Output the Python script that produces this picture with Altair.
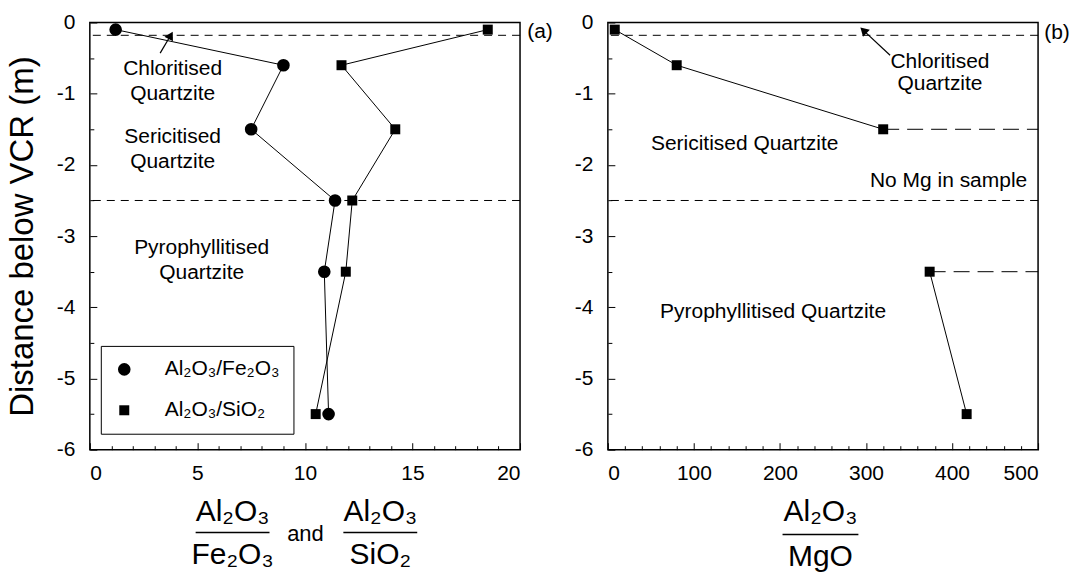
import altair as alt
import pandas as pd

FONT = "Liberation Sans"

# ---------------- data ----------------
depth = [-0.1, -0.6, -1.5, -2.5, -3.5, -5.5]
al_fe = [1.2, 9.0, 7.5, 11.4, 10.9, 11.1]
al_si = [18.5, 11.7, 14.2, 12.2, 11.9, 10.5]
series_names = ["Al₂O₃/Fe₂O₃", "Al₂O₃/SiO₂"]

mg_depth = [-0.1, -0.6, -1.5, -3.5, -5.5]
al_mg = [8, 80, 320, 374, 417]
mg_segment = [1, 1, 1, 2, 2]

zone_bounds = [-0.18, -2.5]
no_mg_x = [320, 374]
no_mg_depth = [-1.5, -3.5]

ann_a_text = ["Chloritised\nQuartzite", "Sericitised\nQuartzite", "Pyrophyllitised\nQuartzite"]
ann_a_x = [3.85, 3.85, 5.2]
ann_a_y = [-0.66, -1.61, -3.17]

ann_b_text = ["Chloritised\nQuartzite", "Sericitised Quartzite", "No Mg in sample", "Pyrophyllitised Quartzite"]
ann_b_x = [386, 159, 396, 192]
ann_b_y = [-0.56, -1.71, -2.23, -4.07]

arrow_a = {"x": [3.27], "y": [-0.43], "x2": [3.76], "y2": [-0.18]}
arrow_b = {"x": [328], "y": [-0.46], "x2": [297], "y2": [-0.11]}

y_ticks = [0, -1, -2, -3, -4, -5, -6]
y_minor = [-0.5, -1.5, -2.5, -3.5, -4.5, -5.5]
xa_ticks = [0, 5, 10, 15, 20]
xa_minor = [1, 2, 3, 4, 6, 7, 8, 9, 11, 12, 13, 14, 16, 17, 18, 19]
xb_ticks = [0, 100, 200, 300, 400, 500]
xb_minor = [v for v in range(20, 500, 20) if v % 100 != 0]

# ---------------- helpers ----------------
W_A, W_B, H = 431, 431, 428
ys = alt.Scale(domain=[-6, 0], nice=False, zero=False)
xsa = alt.Scale(domain=[0, 20], nice=False)
xsb = alt.Scale(domain=[0, 500], nice=False)


def label_axis(values, orient, title=""):
    return alt.Axis(values=values, orient=orient, ticks=False, domain=False, grid=False,
                    labelExpr="'' + datum.value", labelFont=FONT, labelFontSize=21,
                    labelColor="black", labelPadding=15 if orient == "left" else 13,
                    title=title, titleFont=FONT, titleFontSize=33,
                    titleFontWeight="normal", titleColor="black", titlePadding=17)


def tick_axis(values, orient, size):
    return alt.Axis(values=values, orient=orient, labels=False, domain=False, grid=False,
                    ticks=True, tickSize=size, offset=-size, tickColor="black",
                    tickWidth=1, title="")


def tick_layers(df, xf, yf, xscale, xmaj, xmin):
    out = []
    for xv, yv, s in [(xmaj, y_ticks, 7), (xmin, y_minor, 4)]:
        out.append(alt.Chart(df).mark_point(opacity=0).encode(
            x=alt.X(xf, scale=xscale, axis=tick_axis(xv, "bottom", s)),
            y=alt.Y(yf, scale=ys, axis=tick_axis(yv, "left", s)),
        ))
    return out


def txt(s, x, y, size=30):
    return alt.Chart(alt.Data(values=[{}])).mark_text(
        text=s, font=FONT, fontSize=size, align="center", baseline="middle", color="black"
    ).encode(x=alt.value(x), y=alt.value(y))


def frac_line(x1, x2, y):
    return alt.Chart(alt.Data(values=[{}])).mark_rule(color="black", strokeWidth=1.4).encode(
        x=alt.value(x1), x2=alt.value(x2), y=alt.value(y))


def bounds_layer():
    return alt.Chart(pd.DataFrame({"b": zone_bounds})).mark_rule(
        color="black", strokeWidth=1, strokeDash=[8, 6]
    ).encode(y=alt.Y("b:Q", scale=ys, axis=None))


def arrow(d, xscale, angle):
    df = pd.DataFrame(d)
    seg = alt.Chart(df).mark_rule(color="black", strokeWidth=1.2).encode(
        x=alt.X("x:Q", scale=xscale, axis=None), y=alt.Y("y:Q", scale=ys, axis=None),
        x2="x2:Q", y2="y2:Q")
    head = alt.Chart(df).mark_point(shape="triangle-up", filled=True, color="black",
                                    size=95, opacity=1, angle=angle).encode(
        x=alt.X("x2:Q", scale=xscale, axis=None), y=alt.Y("y2:Q", scale=ys, axis=None))
    return [seg, head]


# ---------------- panel (a) ----------------
df_a = pd.DataFrame({
    "depth": depth * 2,
    "value": al_fe + al_si,
    "series": [series_names[0]] * len(depth) + [series_names[1]] * len(depth),
    "order": list(range(len(depth))) * 2,
})

lines_a = alt.Chart(df_a).mark_line(color="black", strokeWidth=1).encode(
    x=alt.X("value:Q", scale=xsa, axis=None),
    y=alt.Y("depth:Q", scale=ys, axis=None),
    detail="series:N",
    order="order:Q",
)

leg = alt.Legend(orient="none", legendX=11, legendY=324, strokeColor="black",
                 padding=13, labelFont=FONT, labelFontSize=21, labelColor="black",
                 labelOffset=30, rowPadding=19, symbolStrokeWidth=0,
                 symbolFillColor="black")
points_a = alt.Chart(df_a).mark_point(filled=True, color="black", opacity=1).encode(
    x=alt.X("value:Q", scale=xsa, axis=label_axis(xa_ticks, "bottom")),
    y=alt.Y("depth:Q", scale=ys, axis=label_axis(y_ticks, "left", "Distance below VCR (m)")),
    shape=alt.Shape("series:N", scale=alt.Scale(domain=series_names, range=["circle", "square"]),
                    legend=leg, title=None),
    size=alt.Size("series:N", scale=alt.Scale(domain=series_names, range=[160, 100]),
                  legend=leg, title=None),
)

ann_a = alt.Chart(pd.DataFrame({"t": ann_a_text, "x": ann_a_x, "y": ann_a_y})).mark_text(
    font=FONT, fontSize=21, lineBreak="\n", lineHeight=25, align="center",
    baseline="middle", color="black"
).encode(x=alt.X("x:Q", scale=xsa, axis=None), y=alt.Y("y:Q", scale=ys, axis=None), text="t:N")

panel_a = alt.layer(
    bounds_layer(),
    lines_a,
    *arrow(arrow_a, xsa, 29),
    ann_a,
    points_a,
    *tick_layers(df_a, "value:Q", "depth:Q", xsa, xa_ticks, xa_minor),
    txt("Al₂O₃", 143, 490), frac_line(106, 180, 511), txt("Fe₂O₃", 143, 534),
    txt("and", 216, 512, 22),
    txt("Al₂O₃", 291, 490), frac_line(254, 328, 511), txt("SiO₂", 291, 534),
    txt("(a)", W_A + 20, 10, 21),
).properties(width=W_A, height=H).resolve_axis(x="independent", y="independent")

# ---------------- panel (b) ----------------
df_b = pd.DataFrame({"depth": mg_depth, "value": al_mg, "seg": mg_segment,
                     "order": list(range(len(mg_depth)))})

lines_b = alt.Chart(df_b).mark_line(color="black", strokeWidth=1).encode(
    x=alt.X("value:Q", scale=xsb, axis=None),
    y=alt.Y("depth:Q", scale=ys, axis=None),
    detail="seg:N",
    order="order:Q",
)
points_b = alt.Chart(df_b).mark_point(filled=True, color="black", opacity=1,
                                      shape="square", size=100).encode(
    x=alt.X("value:Q", scale=xsb, axis=label_axis(xb_ticks, "bottom")),
    y=alt.Y("depth:Q", scale=ys, axis=label_axis(y_ticks, "left")),
)
nomg = alt.Chart(pd.DataFrame({"x": no_mg_x, "y": no_mg_depth})).mark_rule(
    color="black", strokeWidth=1, strokeDash=[16, 8]
).encode(x=alt.X("x:Q", scale=xsb, axis=None), x2=alt.datum(500),
         y=alt.Y("y:Q", scale=ys, axis=None))

ann_b = alt.Chart(pd.DataFrame({"t": ann_b_text, "x": ann_b_x, "y": ann_b_y})).mark_text(
    font=FONT, fontSize=21, lineBreak="\n", lineHeight=22, align="center",
    baseline="middle", color="black"
).encode(x=alt.X("x:Q", scale=xsb, axis=None), y=alt.Y("y:Q", scale=ys, axis=None), text="t:N")

panel_b = alt.layer(
    bounds_layer(),
    nomg,
    lines_b,
    *arrow(arrow_b, xsb, 314),
    ann_b,
    points_b,
    *tick_layers(df_b, "value:Q", "depth:Q", xsb, xb_ticks, xb_minor),
    txt("Al₂O₃", 213, 490), frac_line(175, 251, 513), txt("MgO", 213, 536),
    txt("(b)", W_B + 19, 11, 21),
).properties(width=W_B, height=H).resolve_axis(x="independent", y="independent")

chart = alt.hconcat(panel_a, panel_b, spacing=19).properties(
    padding={"left": 5, "top": 10, "right": 3, "bottom": 2},
    background="white",
).configure_view(stroke="black", strokeWidth=1.5).configure_axis(grid=False)

chart.save("out.html", embed_options={"renderer": "svg", "actions": False})
